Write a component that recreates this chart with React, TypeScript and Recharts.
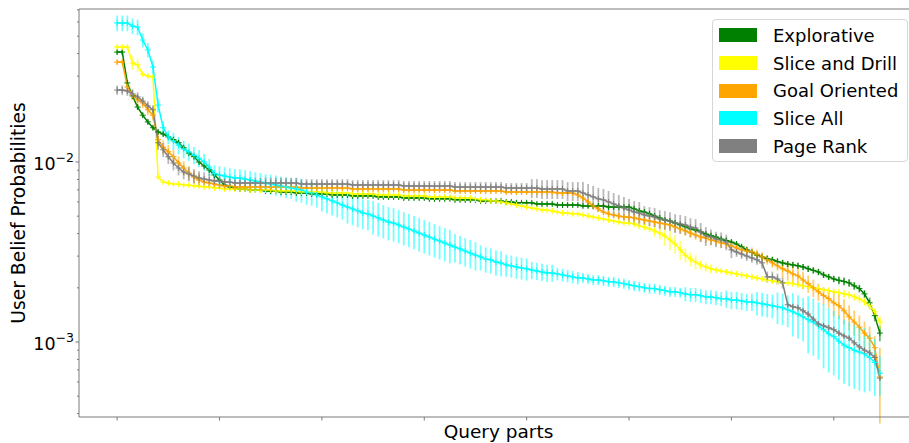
import React from "react";
import { LineChart, Line, XAxis, YAxis, ErrorBar, Legend, ReferenceLine } from "recharts";

// Belief probabilities per query part, in units of 1e-3
const explorative = [
  40.8, 40.8, 27.5, 23.3, 20.2, 18.2, 16.7, 15.5, 14.7, 14.3,
  13.8, 13.3, 12.8, 12.0, 11.2, 10.7, 10.0, 9.5, 9.03, 8.47,
  7.94, 7.45, 7.26, 7.17, 7.08, 7.08, 6.99, 6.99, 6.99, 6.9,
  6.9, 6.9, 6.81, 6.81, 6.81, 6.73, 6.73, 6.73, 6.64, 6.64,
  6.64, 6.64, 6.56, 6.56, 6.56, 6.56, 6.48, 6.48, 6.48, 6.48,
  6.48, 6.4, 6.4, 6.4, 6.4, 6.4, 6.31, 6.31, 6.31, 6.31,
  6.31, 6.24, 6.24, 6.24, 6.24, 6.24, 6.16, 6.16, 6.16, 6.16,
  6.16, 6.08, 6.08, 6.08, 6.08, 6.08, 6.0, 6.0, 5.93, 5.93,
  5.93, 5.93, 5.85, 5.85, 5.85, 5.85, 5.77, 5.77, 5.77, 5.77,
  5.77, 5.7, 5.7, 5.7, 5.7, 5.7, 5.62, 5.62, 5.62, 5.62,
  5.62, 5.49, 5.35, 5.27, 5.15, 5.01, 4.89, 4.76, 4.7, 4.58,
  4.47, 4.36, 4.25, 4.19, 4.09, 3.98, 3.9, 3.83, 3.73, 3.66,
  3.59, 3.5, 3.38, 3.25, 3.15, 3.04, 2.97, 2.9, 2.86, 2.8,
  2.75, 2.71, 2.68, 2.65, 2.61, 2.55, 2.5, 2.45, 2.36, 2.3,
  2.24, 2.2, 2.17, 2.13, 2.05, 1.98, 1.85, 1.65, 1.4, 1.12,
];
const sliceAndDrill = [
  43.5, 43.5, 43.5, 35.5, 34.6, 30.8, 30.0, 29.7, 8.25, 7.74,
  7.64, 7.54, 7.54, 7.45, 7.45, 7.36, 7.36, 7.26, 7.26, 7.17,
  7.17, 7.08, 7.08, 7.08, 7.08, 7.08, 6.99, 6.99, 6.99, 6.99,
  6.99, 6.9, 6.9, 6.9, 6.9, 6.9, 6.81, 6.81, 6.81, 6.81,
  6.81, 6.73, 6.73, 6.73, 6.73, 6.73, 6.64, 6.64, 6.64, 6.64,
  6.64, 6.56, 6.56, 6.56, 6.56, 6.56, 6.48, 6.48, 6.48, 6.48,
  6.48, 6.4, 6.4, 6.4, 6.4, 6.4, 6.31, 6.31, 6.31, 6.31,
  6.24, 6.16, 6.16, 6.08, 6.08, 6.0, 5.93, 5.85, 5.77, 5.7,
  5.62, 5.55, 5.49, 5.41, 5.41, 5.35, 5.27, 5.21, 5.21, 5.15,
  5.15, 5.08, 5.01, 4.95, 4.89, 4.82, 4.76, 4.7, 4.64, 4.58,
  4.58, 4.53, 4.41, 4.35, 4.25, 4.14, 4.03, 3.88, 3.69, 3.51,
  3.25, 3.04, 2.89, 2.78, 2.68, 2.61, 2.55, 2.51, 2.48, 2.45,
  2.42, 2.39, 2.36, 2.33, 2.3, 2.27, 2.24, 2.21, 2.19, 2.16,
  2.13, 2.13, 2.11, 2.08, 2.05, 2.03, 2.0, 1.98, 1.95, 1.93,
  1.9, 1.88, 1.85, 1.83, 1.78, 1.74, 1.67, 1.59, 1.47, 1.29,
];
const goalOriented = [
  35.9, 35.9, 26.1, 23.6, 22.1, 21.3, 19.5, 18.2, 13.3, 12.1,
  11.4, 10.7, 9.87, 9.26, 8.69, 8.25, 7.94, 7.74, 7.64, 7.54,
  7.45, 7.36, 7.36, 7.26, 7.26, 7.26, 7.26, 7.26, 7.26, 7.26,
  7.26, 7.26, 7.26, 7.26, 7.26, 7.26, 7.17, 7.17, 7.17, 7.17,
  7.17, 7.17, 7.17, 7.17, 7.17, 7.17, 7.08, 7.08, 7.08, 7.08,
  7.08, 7.08, 7.08, 7.08, 7.08, 7.08, 6.99, 6.99, 6.99, 6.99,
  6.99, 6.99, 6.99, 6.99, 6.99, 6.99, 6.9, 6.9, 6.9, 6.9,
  6.9, 6.9, 6.9, 6.9, 6.9, 6.9, 6.81, 6.81, 6.81, 6.81,
  6.81, 6.81, 6.81, 6.81, 6.81, 6.81, 6.73, 6.73, 6.73, 6.73,
  6.56, 6.31, 6.0, 5.7, 5.49, 5.27, 5.15, 5.08, 5.01, 4.95,
  4.95, 4.89, 4.82, 4.76, 4.7, 4.64, 4.58, 4.53, 4.47, 4.35,
  4.25, 4.14, 4.03, 3.93, 3.83, 3.78, 3.69, 3.64, 3.55, 3.51,
  3.42, 3.33, 3.25, 3.2, 3.16, 3.08, 2.97, 2.86, 2.75, 2.65,
  2.55, 2.48, 2.39, 2.33, 2.21, 2.11, 2.0, 1.9, 1.81, 1.74,
  1.65, 1.59, 1.49, 1.38, 1.29, 1.21, 1.12, 1.05, 0.93, 0.64,
];
const sliceAll = [
  59.2, 59.2, 59.2, 56.9, 56.2, 47.6, 41.9, 33.7, 20.7, 15.5,
  13.8, 13.1, 12.4, 11.8, 11.4, 10.9, 10.5, 10.0, 9.38, 8.64,
  8.47, 8.36, 8.25, 8.15, 8.15, 8.04, 7.94, 7.84, 7.74, 7.64,
  7.54, 7.45, 7.36, 7.26, 7.17, 7.08, 6.99, 6.81, 6.73, 6.56,
  6.4, 6.24, 6.08, 5.93, 5.77, 5.62, 5.49, 5.35, 5.21, 5.15,
  5.01, 4.89, 4.76, 4.64, 4.58, 4.47, 4.35, 4.25, 4.14, 4.03,
  3.93, 3.83, 3.73, 3.64, 3.55, 3.46, 3.37, 3.29, 3.2, 3.12,
  3.04, 2.97, 2.89, 2.86, 2.78, 2.75, 2.68, 2.65, 2.61, 2.58,
  2.55, 2.51, 2.48, 2.45, 2.42, 2.42, 2.39, 2.36, 2.33, 2.3,
  2.27, 2.27, 2.24, 2.21, 2.21, 2.19, 2.16, 2.16, 2.13, 2.11,
  2.08, 2.05, 2.03, 2.0, 1.98, 1.98, 1.95, 1.93, 1.9, 1.9,
  1.88, 1.85, 1.83, 1.83, 1.81, 1.78, 1.78, 1.76, 1.74, 1.74,
  1.71, 1.71, 1.69, 1.67, 1.67, 1.65, 1.63, 1.61, 1.59, 1.57,
  1.55, 1.51, 1.47, 1.43, 1.38, 1.33, 1.29, 1.23, 1.17, 1.11,
  1.07, 1.01, 0.96, 0.93, 0.9, 0.88, 0.86, 0.82, 0.77, 0.67,
];
const pageRank = [
  25.1, 25.1, 24.8, 23.9, 23.0, 21.8, 20.5, 19.5, 12.8, 11.7,
  10.7, 9.87, 9.26, 8.8, 8.58, 8.36, 8.15, 8.04, 7.94, 7.84,
  7.84, 7.74, 7.74, 7.64, 7.64, 7.64, 7.64, 7.64, 7.64, 7.64,
  7.64, 7.64, 7.64, 7.64, 7.64, 7.64, 7.54, 7.54, 7.54, 7.54,
  7.54, 7.54, 7.54, 7.54, 7.54, 7.54, 7.45, 7.45, 7.45, 7.45,
  7.45, 7.45, 7.45, 7.45, 7.45, 7.45, 7.36, 7.36, 7.36, 7.36,
  7.36, 7.36, 7.36, 7.36, 7.36, 7.36, 7.26, 7.26, 7.26, 7.26,
  7.26, 7.26, 7.26, 7.26, 7.26, 7.26, 7.17, 7.17, 7.17, 7.17,
  7.17, 7.17, 7.17, 7.08, 7.08, 7.08, 7.08, 7.08, 6.9, 6.9,
  6.9, 6.73, 6.56, 6.4, 6.24, 6.16, 6.0, 5.85, 5.7, 5.55,
  5.41, 5.27, 5.21, 5.08, 5.01, 4.95, 4.82, 4.76, 4.7, 4.58,
  4.53, 4.47, 4.35, 4.3, 4.09, 3.88, 3.83, 3.73, 3.69, 3.59,
  3.25, 3.16, 3.08, 3.0, 2.93, 2.86, 2.75, 2.3, 2.3, 2.24,
  2.13, 1.61, 1.57, 1.55, 1.49, 1.43, 1.34, 1.26, 1.23, 1.2,
  1.17, 1.12, 1.08, 1.05, 0.99, 0.94, 0.9, 0.87, 0.82, 0.63,
];

// error bar half-widths, as a fraction of the value
const explorativeErr = [
  .03, .03, .03, .03, .03, .03, .03, .03, .03, .03,
  .03, .03, .03, .03, .03, .03, .03, .03, .03, .03,
  .03, .02, .02, .02, .02, .02, .02, .02, .02, .02,
  .02, .02, .02, .02, .02, .02, .02, .02, .02, .02,
  .02, .02, .02, .02, .02, .02, .02, .02, .02, .02,
  .02, .02, .02, .02, .02, .02, .02, .02, .02, .02,
  .02, .02, .02, .02, .02, .02, .02, .02, .02, .02,
  .02, .02, .02, .02, .02, .02, .02, .02, .02, .02,
  .02, .02, .02, .02, .02, .02, .02, .02, .02, .02,
  .02, .02, .02, .02, .02, .02, .02, .02, .02, .02,
  .02, .03, .03, .03, .03, .03, .03, .03, .03, .03,
  .03, .03, .03, .03, .03, .03, .03, .03, .03, .03,
  .03, .03, .03, .03, .03, .03, .04, .04, .04, .04,
  .04, .04, .04, .04, .04, .04, .04, .04, .04, .04,
  .04, .05, .05, .05, .05, .05, .05, .07, .07, .1,
];
const sliceAndDrillErr = [
  .03, .03, .03, .085, .085, .03, .03, .03, .02, .02,
  .02, .02, .02, .02, .02, .02, .02, .02, .02, .02,
  .02, .02, .02, .02, .02, .02, .02, .02, .02, .02,
  .02, .02, .02, .02, .02, .02, .02, .02, .02, .02,
  .02, .02, .02, .02, .02, .02, .02, .02, .02, .02,
  .02, .02, .02, .02, .02, .02, .02, .02, .02, .02,
  .02, .02, .02, .02, .02, .02, .02, .02, .02, .02,
  .02, .02, .02, .02, .02, .02, .02, .02, .02, .02,
  .02, .02, .02, .02, .02, .02, .02, .02, .02, .02,
  .02, .02, .02, .02, .02, .02, .02, .02, .02, .02,
  .02, .04, .04, .04, .04, .08, .08, .12, .12, .12,
  .12, .09, .09, .09, .06, .06, .06, .035, .035, .035,
  .035, .035, .035, .035, .035, .035, .035, .035, .035, .035,
  .035, .035, .035, .035, .035, .035, .035, .035, .035, .035,
  .035, .05, .05, .05, .05, .05, .05, .05, .05, .08,
];
const goalOrientedErr = [
  .03, .03, .065, .065, .065, .065, .065, .065, .09, .09,
  .09, .09, .09, .09, .09, .09, .09, .02, .02, .02,
  .02, .02, .02, .02, .02, .02, .02, .02, .02, .02,
  .02, .02, .02, .02, .02, .02, .02, .02, .02, .02,
  .02, .02, .02, .02, .02, .02, .02, .02, .02, .02,
  .02, .02, .02, .02, .02, .02, .02, .02, .02, .02,
  .02, .02, .02, .02, .02, .02, .02, .02, .02, .02,
  .02, .02, .02, .02, .02, .02, .02, .02, .02, .02,
  .02, .02, .02, .02, .02, .02, .02, .02, .02, .02,
  .04, .04, .04, .04, .04, .04, .04, .04, .04, .04,
  .06, .06, .06, .06, .06, .06, .06, .06, .06, .06,
  .06, .06, .06, .06, .06, .06, .06, .06, .06, .06,
  .06, .06, .06, .06, .06, .06, .06, .06, .06, .06,
  .11, .11, .11, .11, .11, .11, .11, .11, .11, .11,
  .16, .16, .16, .16, .16, .16, .16, .16, .16, .45,
];
const sliceAllErr = [
  .1, .1, .1, .1, .1, .09, .09, .09, .09, .09,
  .09, .11, .11, .11, .11, .11, .11, .11, .11, .11,
  .12, .12, .12, .12, .12, .12, .12, .12, .12, .12,
  .13, .13, .13, .13, .13, .15, .15, .15, .15, .15,
  .17, .17, .17, .17, .17, .19, .19, .19, .19, .19,
  .21, .21, .21, .21, .21, .21, .21, .21, .21, .21,
  .21, .21, .21, .21, .21, .21, .18, .18, .18, .18,
  .18, .16, .16, .16, .16, .16, .14, .14, .14, .14,
  .14, .11, .11, .11, .11, .11, .08, .08, .08, .08,
  .08, .064, .064, .064, .064, .064, .064, .064, .064, .064,
  .064, .064, .064, .064, .064, .064, .064, .064, .064, .064,
  .064, .09, .09, .09, .09, .09, .09, .09, .09, .11,
  .11, .11, .11, .11, .11, .15, .15, .15, .15, .2,
  .2, .2, .27, .27, .27, .35, .35, .35, .39, .39,
  .39, .39, .39, .39, .39, .39, .39, .35, .35, .25,
];
const pageRankErr = [
  .06, .06, .06, .06, .06, .06, .06, .06, .09, .09,
  .09, .09, .09, .09, .09, .09, .09, .09, .09, .09,
  .09, .07, .07, .07, .07, .07, .07, .07, .07, .07,
  .07, .07, .07, .07, .07, .07, .065, .065, .065, .065,
  .065, .065, .065, .065, .065, .065, .065, .065, .065, .065,
  .065, .065, .065, .065, .065, .065, .065, .065, .065, .065,
  .065, .065, .065, .065, .065, .065, .065, .065, .065, .065,
  .065, .065, .065, .065, .065, .065, .065, .065, .065, .065,
  .065, .12, .12, .12, .12, .12, .12, .12, .12, .12,
  .12, .15, .15, .15, .15, .15, .15, .15, .15, .15,
  .15, .15, .15, .12, .12, .12, .12, .12, .12, .12,
  .12, .12, .12, .12, .12, .12, .1, .1, .1, .1,
  .1, .06, .06, .06, .06, .06, .07, .07, .07, .07,
  .07, .03, .03, .03, .03, .03, .03, .03, .03, .03,
  .03, .03, .03, .03, .03, .03, .03, .03, .03, .03,
];

const xTicks = [0, 20, 40, 60, 80, 100, 120, 140];
const yTicks = [
  4e-4, 5e-4, 6e-4, 7e-4, 8e-4, 9e-4, 1e-3,
  2e-3, 3e-3, 4e-3, 5e-3, 6e-3, 7e-3, 8e-3, 9e-3, 1e-2,
  2e-2, 3e-2, 4e-2, 5e-2, 6e-2, 7e-2,
];

const SERIES = [
  { key: "explorative", name: "Explorative", color: "#008000", values: explorative, err: explorativeErr },
  { key: "sliceAndDrill", name: "Slice and Drill", color: "#ffff00", values: sliceAndDrill, err: sliceAndDrillErr },
  { key: "goalOriented", name: "Goal Oriented", color: "#ffa500", values: goalOriented, err: goalOrientedErr },
  { key: "sliceAll", name: "Slice All", color: "#00ffff", values: sliceAll, err: sliceAllErr },
  { key: "pageRank", name: "Page Rank", color: "#808080", values: pageRank, err: pageRankErr },
];

const rows = explorative.map((_, i) => {
  const row: Record<string, number> = { part: i };
  SERIES.forEach((s) => {
    row[s.key] = s.values[i] * 1e-3;
    row[s.key + "Err"] = s.values[i] * 1e-3 * s.err[i];
  });
  return row;
});

const FONT = "'DejaVu Sans', sans-serif";
const AXIS = "#7a7a7a";

const YTick = (props: any) => {
  const { x, y, payload } = props;
  const lg = Math.log10(payload.value);
  const exp = Math.round(lg);
  const major = Math.abs(lg - exp) < 1e-6;
  return (
    <g>
      <line x1={x - (major ? 3.5 : 2)} x2={x} y1={y} y2={y} stroke={AXIS} strokeWidth={1} />
      {major && (
        <text x={x - 5} y={y + 8} textAnchor="end" fontSize={17.5} fontFamily={FONT} fill="#000">
          <tspan>10</tspan>
          <tspan dy={-8} fontSize={12.5}>{"\u2212" + String(-exp)}</tspan>
        </text>
      )}
    </g>
  );
};

const XTick = (props: any) => {
  const { x, y } = props;
  return <line x1={x} x2={x} y1={y} y2={y + 3.5} stroke={AXIS} strokeWidth={1} />;
};

const XLabel = (props: any) => {
  const vb = props.viewBox;
  return (
    <text x={vb.x + vb.width / 2} y={vb.y + 21} textAnchor="middle" fontSize={18.5} fontFamily={FONT} fill="#000">
      Query parts
    </text>
  );
};

const YLabel = (props: any) => {
  const vb = props.viewBox;
  const cx = 18;
  const cy = vb.y + vb.height / 2;
  return (
    <text
      x={cx}
      y={cy}
      transform={`rotate(-90, ${cx}, ${cy})`}
      textAnchor="middle"
      dominantBaseline="central"
      fontSize={18.7}
      fontFamily={FONT}
      fill="#000"
    >
      User Belief Probabilities
    </text>
  );
};

const renderDot = (color: string) => (props: any) => {
  const { cx, cy, index } = props;
  if (cx == null || cy == null) return <g key={`d-${index}`} />;
  return (
    <g key={`d-${index}`}>
      <line x1={cx - 3} x2={cx + 3} y1={cy} y2={cy} stroke={color} strokeWidth={1} />
      <line x1={cx} x2={cx} y1={cy - 3} y2={cy + 3} stroke={color} strokeWidth={1} />
    </g>
  );
};

const LegendBox = () => (
  <div
    style={{
      width: 196,
      height: 143,
      boxSizing: "border-box",
      border: "1px solid #d6d6d6",
      borderRadius: 4,
      background: "rgba(255,255,255,0.85)",
      paddingTop: 1.5,
      fontFamily: FONT,
    }}
  >
    {SERIES.map((s) => (
      <div key={s.key} style={{ height: 27.7, display: "flex", alignItems: "center" }}>
        <div style={{ width: 38, height: 14, marginLeft: 6, background: s.color }} />
        <span style={{ marginLeft: 16, fontSize: 18, color: "#000", whiteSpace: "nowrap" }}>{s.name}</span>
      </div>
    ))}
  </div>
);

const Y_DOMAIN: [number, number] = [3.83e-4, 7.08e-2];

export default function App() {
  return (
    <div style={{ position: "absolute", left: 0, top: 0, width: 909, height: 443, overflow: "hidden", background: "#fff" }}>
      <LineChart width={920} height={443} data={rows} margin={{ top: 9, right: 2, bottom: 0, left: 0 }}>
        <XAxis
          dataKey="part"
          type="number"
          domain={[-7.45, 156.45]}
          allowDataOverflow
          ticks={xTicks}
          interval={0}
          tickSize={0}
          tickMargin={0}
          tickLine={false}
          tick={<XTick />}
          axisLine={{ stroke: AXIS, strokeWidth: 1 }}
          height={26}
          label={XLabel}
        />
        <YAxis
          scale="log"
          type="number"
          domain={Y_DOMAIN}
          allowDataOverflow
          ticks={yTicks}
          interval={0}
          tickSize={0}
          tickMargin={0}
          tickLine={false}
          tick={<YTick />}
          axisLine={{ stroke: AXIS, strokeWidth: 1 }}
          width={79}
          label={YLabel}
        />
        <ReferenceLine y={Y_DOMAIN[1]} stroke={AXIS} strokeWidth={1} />
        <Legend
          layout="vertical"
          align="center"
          verticalAlign="middle"
          content={LegendBox}
          wrapperStyle={{ left: 712, top: 19, width: 196, height: 143 }}
        />
        {SERIES.map((s) => (
          <Line
            key={s.key}
            dataKey={s.key}
            name={s.name}
            type="linear"
            stroke={s.color}
            strokeWidth={1.5}
            dot={renderDot(s.color)}
            activeDot={false}
            isAnimationActive={false}
          >
            <ErrorBar dataKey={s.key + "Err"} width={0} stroke={s.color} strokeWidth={1.8} strokeOpacity={0.55} />
          </Line>
        ))}
      </LineChart>
    </div>
  );
}
